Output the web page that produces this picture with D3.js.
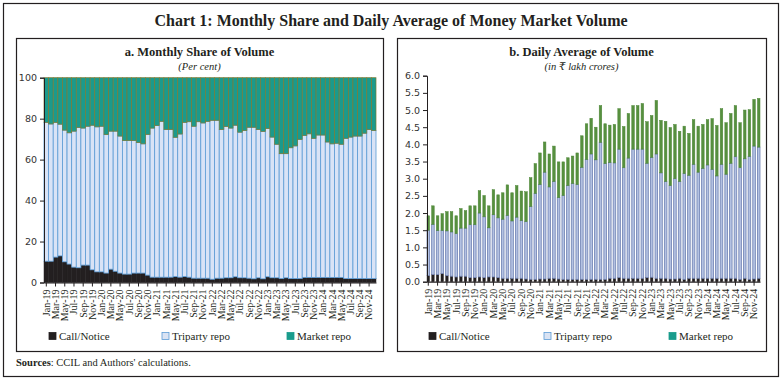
<!DOCTYPE html>
<html><head><meta charset="utf-8">
<script src="https://cdn.jsdelivr.net/npm/d3@7"></script>
<style>body{margin:0;background:#fff}svg{display:block}</style>
</head><body>
<svg id="c" width="782" height="381"></svg>
<script>
const months = ["Jan-19","Feb-19","Mar-19","Apr-19","May-19","Jun-19","Jul-19","Aug-19","Sep-19","Oct-19","Nov-19","Dec-19",
"Jan-20","Feb-20","Mar-20","Apr-20","May-20","Jun-20","Jul-20","Aug-20","Sep-20","Oct-20","Nov-20","Dec-20",
"Jan-21","Feb-21","Mar-21","Apr-21","May-21","Jun-21","Jul-21","Aug-21","Sep-21","Oct-21","Nov-21","Dec-21",
"Jan-22","Feb-22","Mar-22","Apr-22","May-22","Jun-22","Jul-22","Aug-22","Sep-22","Oct-22","Nov-22","Dec-22",
"Jan-23","Feb-23","Mar-23","Apr-23","May-23","Jun-23","Jul-23","Aug-23","Sep-23","Oct-23","Nov-23","Dec-23",
"Jan-24","Feb-24","Mar-24","Apr-24","May-24","Jun-24","Jul-24","Aug-24","Sep-24","Oct-24","Nov-24","Dec-24"];
const seriesNames = ["Call/Notice","Triparty repo","Market repo"];

// Panel a: monthly share (per cent)
const shareCall = [10.4,10.4,12.4,13.0,10.1,9.0,7.5,7.2,8.5,8.5,6.2,5.2,5.2,4.6,6.5,5.5,4.6,4.1,4.1,4.6,4.6,4.6,3.6,2.6,
2.6,2.6,2.6,2.6,2.9,2.6,2.9,2.6,2.1,2.1,2.1,2.1,1.6,2.1,2.1,2.3,2.3,2.8,2.3,2.3,2.1,1.8,2.3,1.8,
2.8,2.3,2.3,1.9,2.3,1.9,1.9,1.9,2.5,2.5,2.5,2.5,2.5,2.5,2.5,2.5,2.5,1.9,1.9,1.9,1.9,1.9,1.9,1.9];
const shareTriparty = [67.8,67.0,65.8,64.3,64.3,64.1,66.4,68.5,66.9,67.8,70.6,70.8,71.1,67.6,67.4,68.4,66.9,65.2,65.2,64.7,63.7,63.1,68.7,72.8,
74.0,76.1,72.1,72.1,68.0,69.9,75.3,75.9,74.2,76.4,75.8,76.6,77.6,77.1,72.6,73.9,73.1,74.0,71.1,71.9,73.7,74.0,72.4,72.0,
72.4,68.7,65.2,61.0,60.6,63.9,64.8,68.0,69.3,70.1,67.9,69.5,69.5,66.1,65.2,65.5,65.0,68.5,69.1,69.6,69.6,71.0,72.8,72.3];
const shareMarket = [21.8,22.6,21.8,22.7,25.6,26.9,26.1,24.3,24.6,23.7,23.2,24.0,23.7,27.8,26.1,26.1,28.5,30.7,30.7,30.7,31.7,32.3,27.7,24.6,
23.4,21.3,25.3,25.3,29.1,27.5,21.8,21.5,23.7,21.5,22.1,21.3,20.8,20.8,25.3,23.8,24.6,23.2,26.6,25.8,24.2,24.2,25.3,26.2,
24.8,29.0,32.5,37.1,37.1,34.2,33.3,30.1,28.2,27.4,29.6,28.0,28.0,31.4,32.3,32.0,32.5,29.6,29.0,28.5,28.5,27.1,25.3,25.8];
const shareTicks = [0,20,40,60,80,100];

// Panel b: daily average volume (in ₹ lakh crores)
const volCall = [0.18,0.21,0.21,0.24,0.18,0.16,0.14,0.16,0.16,0.12,0.12,0.14,0.12,0.14,0.14,0.12,0.10,0.10,0.10,0.10,0.10,0.08,0.07,0.07,
0.08,0.08,0.10,0.10,0.08,0.07,0.07,0.07,0.07,0.07,0.07,0.07,0.07,0.07,0.07,0.10,0.10,0.12,0.10,0.10,0.10,0.10,0.10,0.12,
0.13,0.10,0.10,0.10,0.08,0.08,0.10,0.07,0.10,0.10,0.10,0.10,0.10,0.10,0.10,0.10,0.10,0.10,0.10,0.07,0.10,0.07,0.08,0.10];
const volTriparty = [1.32,1.46,1.28,1.25,1.30,1.29,1.26,1.40,1.40,1.54,1.54,1.86,1.77,1.43,1.81,1.74,1.72,1.83,1.67,1.78,1.68,1.67,2.12,2.50,
2.75,3.11,2.66,2.82,2.37,2.44,2.73,2.79,2.76,3.26,3.49,3.65,3.48,3.99,3.37,3.37,3.36,3.74,3.22,3.50,3.76,3.76,3.76,3.33,
3.49,3.62,3.07,2.82,2.72,2.92,2.82,3.08,3.00,3.32,3.09,3.20,3.30,3.17,2.98,3.32,3.03,3.35,3.54,3.25,3.48,3.58,3.87,3.82];
const volMarket = [0.42,0.54,0.43,0.49,0.56,0.59,0.52,0.57,0.51,0.55,0.55,0.65,0.62,0.64,0.73,0.67,0.77,0.89,0.82,0.92,0.86,0.87,0.84,0.87,
0.92,0.88,0.96,1.03,1.04,0.98,0.81,0.80,0.92,0.92,1.04,1.04,0.95,1.07,1.16,1.09,1.12,1.18,1.20,1.30,1.27,1.27,1.33,1.21,
1.22,1.56,1.53,1.75,1.69,1.58,1.46,1.38,1.22,1.30,1.34,1.28,1.32,1.48,1.47,1.62,1.50,1.45,1.49,1.31,1.42,1.36,1.36,1.42];
const volTicks = [0,0.5,1,1.5,2,2.5,3,3.5,4,4.5,5,5.5,6];

const serif = "'Liberation Serif','DejaVu Serif',serif";
const sans = "'DejaVu Sans',Verdana,sans-serif";
const ink = "#231f20";

const svg = d3.select("#c");
svg.append("rect").attr("x",3.5).attr("y",3.5).attr("width",775).attr("height",373)
  .attr("fill","none").attr("stroke",ink).attr("stroke-width",1.2);
svg.append("text").attr("x",391).attr("y",26).attr("text-anchor","middle")
  .attr("font-family",serif).attr("font-weight","bold").attr("font-size",16).attr("fill",ink)
  .text("Chart 1: Monthly Share and Daily Average of Money Market Volume");
const src = svg.append("text").attr("x",16).attr("y",366).attr("font-family",serif).attr("font-size",10.5).attr("fill",ink);
src.append("tspan").attr("font-weight","bold").text("Sources");
src.append("tspan").text(": CCIL and Authors' calculations.");

function panel(opt){
  const g = svg.append("g");
  g.append("rect").attr("x",opt.box[0]+0.5).attr("y",opt.box[1]+0.5).attr("width",opt.box[2]).attr("height",opt.box[3])
    .attr("fill","none").attr("stroke",ink).attr("stroke-width",1.2);
  const cx = opt.box[0]+opt.box[2]/2;
  g.append("text").attr("x",cx).attr("y",56).attr("text-anchor","middle").attr("font-family",serif)
    .attr("font-weight","bold").attr("font-size",12.5).attr("fill",ink).text(opt.title);
  g.append("text").attr("x",cx).attr("y",70).attr("text-anchor","middle").attr("font-family",serif)
    .attr("font-style","italic").attr("font-size",10.5).attr("fill",ink).text(opt.unit);

  const table = months.map((m,i)=>({m, c:opt.data[0][i], t:opt.data[1][i], k:opt.data[2][i]}));
  const stacked = d3.stack().keys(["c","t","k"])(table);
  const x = d3.scaleBand().domain(months).range(opt.xr).paddingInner(opt.pad).paddingOuter(0);
  const y = d3.scaleLinear().domain(opt.ydom).range(opt.yr);

  stacked.forEach((s,si)=>{
    g.append("g").selectAll("rect").data(s).join("rect")
      .attr("x",d=>x(d.data.m)).attr("width",x.bandwidth())
      .attr("y",d=>y(d[1])).attr("height",d=>Math.max(0,y(d[0])-y(d[1])))
      .attr("fill",opt.fills[si]).attr("stroke",opt.strokes[si]).attr("stroke-width",opt.sw[si]);
  });

  const ya = g.append("g").attr("transform",`translate(${opt.xr[0]},0)`)
    .call(d3.axisLeft(y).tickValues(opt.yticks).tickFormat(opt.yfmt).tickSize(4).tickPadding(3));
  ya.select(".domain").attr("stroke",ink);
  ya.selectAll(".tick line").attr("stroke",ink);
  ya.selectAll("text").attr("font-family",sans).attr("font-size",9.5).attr("fill","#333");

  const xa = g.append("g").attr("transform",`translate(0,${opt.yr[0]})`)
    .call(d3.axisBottom(x).tickValues(months.filter((m,i)=>i%2===0)).tickSize(4).tickSizeOuter(0).tickPadding(2));
  xa.select(".domain").attr("stroke",ink).attr("stroke-width",1.2);
  xa.selectAll(".tick line").attr("stroke",ink).attr("stroke-width",1);
  xa.selectAll("text").attr("font-family",serif).attr("font-size",10).attr("fill",ink)
    .attr("text-anchor","end").attr("dy","0.33em").attr("transform","rotate(-90)")
    .attr("x",-7).attr("y",0);

  const lg = g.append("g");
  const legFill = ["#231f20","#dae3f3","#1a9c8c"];
  const legStroke = ["#231f20","#5b9bd5","#1a9c8c"];
  seriesNames.forEach((n,i)=>{
    lg.append("rect").attr("x",opt.leg[i]).attr("y",332.5).attr("width",7).attr("height",7)
      .attr("fill",legFill[i]).attr("stroke",legStroke[i]).attr("stroke-width",0.8);
    lg.append("text").attr("x",opt.leg[i]+10).attr("y",340).attr("font-family",serif)
      .attr("font-size",11).attr("fill",ink).text(n);
  });
}

panel({box:[16,38,367,313], title:"a. Monthly Share of Volume", unit:"(Per cent)",
  data:[shareCall,shareTriparty,shareMarket], xr:[44,376], pad:0, ydom:[0,100], yr:[282.5,77.7],
  fills:["#231f20","#d9e3f6","#1b9a8c"], strokes:["#231f20","#5b9bd5","#7d7a33"], sw:[0.5,0.8,0.7],
  yticks:shareTicks, yfmt:d3.format("d"), leg:[49,162,287]});

panel({box:[397,38,369,313], title:"b. Daily Average of Volume", unit:"(in ₹ lakh crores)",
  data:[volCall,volTriparty,volMarket], xr:[427,760], pad:0.45, ydom:[0,6], yr:[281.7,75.7],
  fills:["#231f20","#b3c1e2","#57903f"], strokes:["#231f20","#6e80b2","#4b8535"], sw:[0.4,0.8,0.5],
  yticks:volTicks, yfmt:d3.format(".1f"), leg:[429,544,669]});
</script>
</body></html>
